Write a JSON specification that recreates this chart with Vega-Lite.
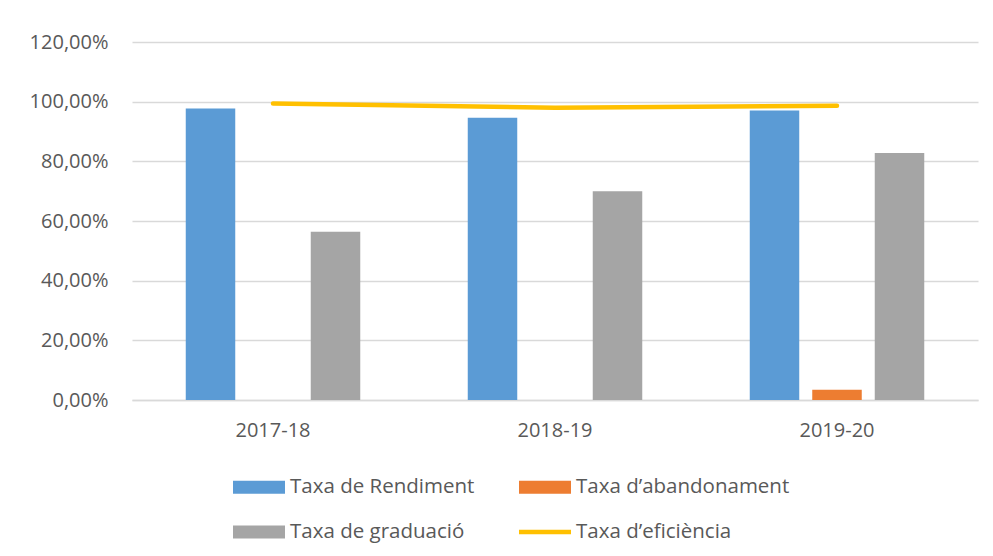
{
  "$schema": "https://vega.github.io/schema/vega-lite/v6.json",
  "width": 846,
  "height": 358,
  "autosize": {"type": "none"},
  "padding": {"left": 132, "top": 42, "right": 15, "bottom": 156},
  "background": "white",
  "config": {
    "font": "Open Sans",
    "view": {"stroke": null},
    "axis": {"labelColor": "#595959", "labelFontSize": 20, "labelFont": "Open Sans", "ticks": false, "title": null},
    "legend": {"rowPadding": 8}
  },
  "data": {
    "values": [
      {"curs": "2017-18", "serie": "Taxa de Rendiment", "valor": 97.7},
      {"curs": "2018-19", "serie": "Taxa de Rendiment", "valor": 94.6},
      {"curs": "2019-20", "serie": "Taxa de Rendiment", "valor": 97.0},
      {"curs": "2017-18", "serie": "Taxa d’abandonament", "valor": 0},
      {"curs": "2018-19", "serie": "Taxa d’abandonament", "valor": 0},
      {"curs": "2019-20", "serie": "Taxa d’abandonament", "valor": 3.4},
      {"curs": "2017-18", "serie": "Taxa de graduació", "valor": 56.4},
      {"curs": "2018-19", "serie": "Taxa de graduació", "valor": 70.0},
      {"curs": "2019-20", "serie": "Taxa de graduació", "valor": 82.8},
      {"curs": "2017-18", "serie": "Taxa d’eficiència", "valor": 99.4},
      {"curs": "2018-19", "serie": "Taxa d’eficiència", "valor": 98.0},
      {"curs": "2019-20", "serie": "Taxa d’eficiència", "valor": 98.6}
    ]
  },
  "encoding": {
    "x": {
      "field": "curs", "type": "nominal", "sort": ["2017-18", "2018-19", "2019-20"],
      "scale": {"paddingInner": 0, "paddingOuter": 0},
      "axis": {"labelAngle": 0, "labelPadding": 20, "domainColor": "#D9D9D9", "domainWidth": 1.5, "grid": false}
    },
    "y": {
      "field": "valor", "type": "quantitative",
      "scale": {"domain": [0, 120], "nice": false},
      "axis": {
        "values": [0, 20, 40, 60, 80, 100, 120],
        "labelExpr": "replace(format(datum.value, '.2f'), '.', ',') + '%'",
        "labelPadding": 24, "domain": false, "gridColor": "#D9D9D9", "gridWidth": 1.5
      }
    },
    "color": {
      "field": "serie", "type": "nominal",
      "scale": {
        "domain": ["Taxa de Rendiment", "Taxa d’abandonament", "Taxa de graduació", "Taxa d’eficiència"],
        "range": ["#5B9BD5", "#ED7D31", "#A5A5A5", "#FFC000"]
      },
      "legend": {
        "title": null,
        "orient": "none",
        "legendX": 101,
        "legendY": 419,
        "direction": "horizontal",
        "columns": 2,
        "columnPadding": 44,
        "rowPadding": 8,
        "labelFontSize": 20.5,
        "labelColor": "#595959",
        "labelFont": "Open Sans",
        "labelLimit": 400,
        "labelOffset": 5,
        "symbolSize": 2704,
        "symbolStrokeWidth": 0,
        "encode": {
          "symbols": {
            "update": {
              "shape": {"signal": "datum.value == 'Taxa d’eficiència' ? 'M-1,-0.085H1V0.085H-1Z' : 'M-1,-0.25H1V0.25H-1Z'"},
              "fill": {"scale": "color", "field": "value"},
              "stroke": {"value": "transparent"},
              "strokeWidth": {"value": 0},
              "opacity": {"value": 1}
            }
          }
        }
      }
    }
  },
  "layer": [
    {
      "transform": [{"filter": "datum.serie != 'Taxa d’eficiència'"}],
      "mark": {"type": "bar"},
      "encoding": {
        "xOffset": {
          "field": "serie", "type": "nominal",
          "sort": ["Taxa de Rendiment", "Taxa d’abandonament", "Taxa de graduació"],
          "scale": {"paddingInner": 0.208, "paddingOuter": 0.86}
        }
      }
    },
    {
      "transform": [{"filter": "datum.serie == 'Taxa d’eficiència'"}],
      "mark": {"type": "line", "strokeWidth": 4.5, "strokeCap": "round", "strokeJoin": "round"},
      "encoding": {}
    }
  ]
}
